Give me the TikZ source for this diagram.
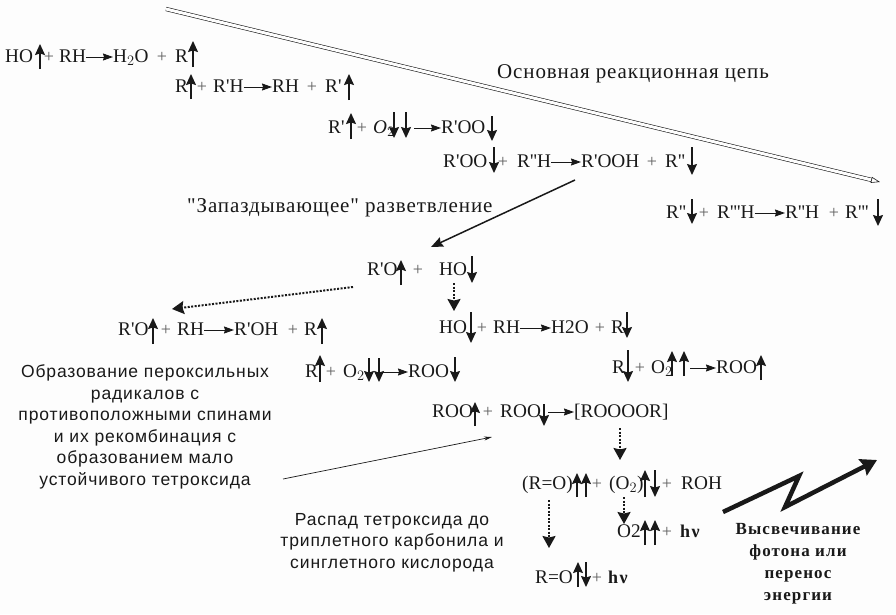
\documentclass[tikz,border=0pt]{standalone}
\usepackage{fontspec}
\usepackage{xcolor}
\usepackage{tikz}
\usetikzlibrary{arrows.meta, positioning}
\setmainfont{Liberation Serif}[Ligatures=TeXOff]
\setsansfont{Liberation Sans}[Ligatures=TeXOff]
\definecolor{inkdark}{RGB}{25, 25, 25}
\definecolor{papergray}{RGB}{253, 253, 253}
\tikzset{
    chem/.style={font=\fontsize{19.3}{22}\selectfont, text=inkdark, anchor=base west, inner sep=0pt},
    label/.style={font=\addfontfeature{LetterSpace=4.2}\fontsize{21}{24}\selectfont, text=inkdark, anchor=base west, inner sep=0pt},
    plus/.style={font=\fontsize{18}{20}\selectfont, text=inkdark!70, anchor=base, inner sep=0pt},
    hnu/.style={font=\bfseries\addfontfeature{LetterSpace=8}\fontsize{18}{20}\selectfont, text=inkdark, anchor=base west, inner sep=0pt},
    note/.style={font=\sffamily\addfontfeature{LetterSpace=5}\fontsize{17.5}{21.5}\selectfont, text=inkdark, align=center, anchor=base, inner sep=0pt},
    photon/.style={font=\bfseries\addfontfeature{LetterSpace=6.5}\fontsize{17}{21.7}\selectfont, text=inkdark, align=center, anchor=base, inner sep=0pt},
    spin/.style={draw=inkdark, line width=1.3pt, -{Stealth[length=11pt, width=10pt, inset=1.5pt]}},
    react/.style={draw=inkdark, line width=1pt, -{Stealth[length=10pt, width=7pt, inset=1pt]}},
    dotarrow/.style={draw=inkdark, line width=2pt, dash pattern=on 2pt off 1.5pt, -{Stealth[length=12pt, width=13pt, inset=1.5pt]}},
}
% spin arrows: x, tail y, head y
\newcommand{\spinarrow}[3]{\draw[spin] (#1, #2) -- (#1, #3);}
% reaction arrows run level, 5pt over the baseline
\newcommand{\reactarrow}[2]{\draw[react] ([yshift=5pt]#1.base east) -- ([yshift=5pt]#2.base west);}
\begin{document}
\begin{tikzpicture}[x=1pt, y=-1pt]
    \fill[papergray] (0, 0) rectangle (896, 614);
    \useasboundingbox (0, 0) rectangle (896, 614);

    % Main chain
    \coordinate (chainstart) at (166, 9);
    \coordinate (chainend) at (880, 182);
    \draw[inkdark, double=papergray, double distance=3pt, line width=.6pt, -{Triangle[open, length=9pt, width=6pt, fill=papergray, line width=.6pt]}] (chainstart) -- (chainend);
    \node[label] at (497, 78) (chainlabel) {Основная реакционная цепь};

    % Row 1
    \node[chem] at (5, 62) (ho) {HO};
    \node[plus] at (49, 62) (p1a) {+};
    \node[chem] at (59, 62) (rh) {RH};
    \node[chem] at (113, 62) (water) {H$_2$O};
    \node[plus] at (162, 62) (p1b) {+};
    \node[chem] at (175, 62) (r) {R};
    \reactarrow{rh}{water}
    \spinarrow{40}{69}{44}
    \spinarrow{193}{67}{41}

    % Row 2
    \node[chem] at (175, 92) (r2) {R};
    \node[plus] at (202, 92) (p2a) {+};
    \node[chem] at (213, 92) (rph) {R'H};
    \node[chem] at (272, 92) (rh2) {RH};
    \node[plus] at (312, 92) (p2b) {+};
    \node[chem] at (325, 92) (rp) {R'};
    \reactarrow{rph}{rh2}
    \spinarrow{191}{99}{74}
    \spinarrow{349}{100}{74}

    % Row 3
    \node[chem] at (328, 133) (rp3) {R'};
    \node[plus] at (362, 133) (p3a) {+};
    \node[chem] at (373, 133) (ox3) {\textit{O}$_2$};
    \node[chem] at (441, 133) (rpoo) {R'OO};
    \coordinate (ox3end) at (414, 128);
    \draw[react] (ox3end) -- ([yshift=5pt]rpoo.base west);
    \spinarrow{351}{139}{113}
    \spinarrow{394}{112}{138}
    \spinarrow{406}{112}{138}
    \spinarrow{492}{116}{141}

    % Row 4
    \node[chem] at (443, 167) (rpoo4) {R'OO};
    \node[plus] at (503, 167) (p4a) {+};
    \node[chem] at (517, 167) (rpph) {R''H};
    \node[chem] at (581, 167) (rpooh) {R'OOH};
    \node[plus] at (652, 167) (p4b) {+};
    \node[chem] at (665, 167) (rpp) {R''};
    \reactarrow{rpph}{rpooh}
    \spinarrow{494}{147}{173}
    \spinarrow{692}{147}{175}

    % Row 5
    \node[chem] at (666, 218) (rpp5) {R''};
    \node[plus] at (704, 218) (p5a) {+};
    \node[chem] at (717, 218) (rppph) {R'''H};
    \node[chem] at (785, 218) (rpph5) {R''H};
    \node[plus] at (834, 218) (p5b) {+};
    \node[chem] at (845, 218) (rppp) {R'''};
    \reactarrow{rppph}{rpph5}
    \spinarrow{692}{199}{224}
    \spinarrow{878}{199}{226}

    % Branching
    \node[label] at (187, 212) (branchlabel) {"Запаздывающее" разветвление};
    \node[chem] at (367, 275) (rpo) {R'O};
    \node[plus] at (418, 275) (p6a) {+};
    \node[chem] at (439, 275) (ho6) {HO};
    \coordinate (branchstart) at (575, 180);
    \coordinate (branchend) at (431, 247);
    \draw[inkdark, line width=1.5pt, -{Stealth[length=12pt, width=10pt, inset=1.5pt]}] (branchstart) -- (branchend);
    \spinarrow{401}{285}{260}
    \spinarrow{472}{256}{283}

    % Left row
    \node[chem] at (118, 335) (rpo7) {R'O};
    \node[plus] at (166, 335) (p7a) {+};
    \node[chem] at (177, 335) (rh7) {RH};
    \node[chem] at (234, 335) (rpoh) {R'OH};
    \node[plus] at (293, 335) (p7b) {+};
    \node[chem] at (304, 335) (r7) {R};
    \reactarrow{rh7}{rpoh}
    \spinarrow{153}{344}{318}
    \spinarrow{322}{344}{318}
    \coordinate (leftstart) at (353, 287);
    \coordinate (leftend) at (172, 309);
    \draw[dotarrow] (leftstart) -- (leftend);

    % HO row
    \node[chem] at (439, 333) (ho8) {HO};
    \node[plus] at (482, 333) (p8a) {+};
    \node[chem] at (493, 333) (rh8) {RH};
    \node[chem] at (551, 333) (h2o8) {H2O};
    \node[plus] at (600, 333) (p8b) {+};
    \node[chem] at (611, 333) (r8) {R};
    \reactarrow{rh8}{h2o8}
    \spinarrow{471}{312}{343}
    \spinarrow{627}{312}{338}
    \coordinate (hostart) at (454, 283);
    \coordinate (hoend) at (454, 311);
    \draw[dotarrow] (hostart) -- (hoend);

    % R + O2 rows
    \node[chem] at (305, 377) (r9) {R};
    \node[plus] at (331, 377) (p9a) {+};
    \node[chem] at (343, 377) (ox9) {O$_2$};
    \node[chem] at (408, 377) (roo9) {ROO};
    \coordinate (ox9end) at (381, 372);
    \draw[react] (ox9end) -- ([yshift=5pt]roo9.base west);
    \spinarrow{320}{382}{355}
    \spinarrow{369}{358}{382}
    \spinarrow{379}{358}{382}
    \spinarrow{455}{357}{382}

    \node[chem] at (612, 373) (r10) {R};
    \node[plus] at (640, 373) (p10a) {+};
    \node[chem] at (651, 373) (ox10) {O$_2$};
    \node[chem] at (716, 373) (roo10) {ROO};
    \coordinate (ox10end) at (690, 368);
    \draw[react] (ox10end) -- ([yshift=5pt]roo10.base west);
    \spinarrow{628}{350}{382}
    \spinarrow{672}{376}{351}
    \spinarrow{684}{376}{351}
    \spinarrow{761}{380}{355}

    % Tetroxide
    \node[chem] at (432, 417) (roo11) {ROO};
    \node[plus] at (488, 417) (p11a) {+};
    \node[chem] at (500, 417) (roo12) {ROO};
    \node[chem] at (574, 417) (tetra) {[ROOOOR]};
    \coordinate (roo12end) at (548, 412);
    \draw[react] (roo12end) -- ([yshift=5pt]tetra.base west);
    \spinarrow{475}{426}{402}
    \spinarrow{544}{404}{426}
    \coordinate (tetrastart) at (620, 428);
    \coordinate (tetraend) at (620, 460);
    \draw[dotarrow] (tetrastart) -- (tetraend);

    % Decay products
    \node[chem] at (522, 489) (carbonyl) {(R=O)};
    \node[plus] at (597, 489) (p12a) {+};
    \node[chem] at (609, 489) (oxygen) {(O$_2$)};
    \node[plus] at (667, 489) (p12b) {+};
    \node[chem] at (681, 489) (roh) {ROH};
    \spinarrow{577}{497}{473}
    \spinarrow{586}{497}{473}
    \spinarrow{645}{497}{470}
    \spinarrow{655}{470}{497}
    \coordinate (oxstart) at (624, 497);
    \coordinate (oxend) at (624, 524);
    \draw[dotarrow] (oxstart) -- (oxend);
    \coordinate (carbstart) at (549, 500);
    \coordinate (carbend) at (549, 548);
    \draw[dotarrow] (carbstart) -- (carbend);

    \node[chem] at (617, 537) (o2t) {O2};
    \node[plus] at (667, 537) (p13a) {+};
    \node[hnu] at (680, 537) (hv1) {hν};
    \spinarrow{645}{545}{520}
    \spinarrow{655}{545}{520}

    \node[chem] at (535, 583) (ro14) {R=O};
    \node[plus] at (597, 583) (p14a) {+};
    \node[hnu] at (608, 583) (hv2) {hν};
    \spinarrow{578}{587}{562}
    \spinarrow{586}{562}{587}

    % Zigzag
    \coordinate (zig0) at (723, 512);
    \coordinate (zig1) at (799, 476);
    \coordinate (zig2) at (785, 507);
    \coordinate (zig3) at (877, 460);
    \draw[inkdark, line width=4.5pt, -{Stealth[length=16pt, width=18pt, inset=2pt]}] (zig0) -- (zig1) -- (zig2) -- (zig3);

    % Notes
    \node[note] at (145, 485) (peroxnote) {Образование пероксильных\\радикалов с\\противоположными спинами\\и их рекомбинация с\\образованием мало\\устойчивого тетроксида};
    \node[note] at (392, 568) (decaynote) {Распад тетроксида до\\триплетного карбонила и\\синглетного кислорода};
    \node[photon] at (798, 600) (photonnote) {Высвечивание\\фотона или\\перенос\\энергии};
    \coordinate (notestart) at (283, 479);
    \coordinate (noteend) at (492, 437);
    \draw[inkdark, line width=.7pt, -{Stealth[length=8pt, width=4pt]}] (notestart) -- (noteend);

\end{tikzpicture}
\end{document}
